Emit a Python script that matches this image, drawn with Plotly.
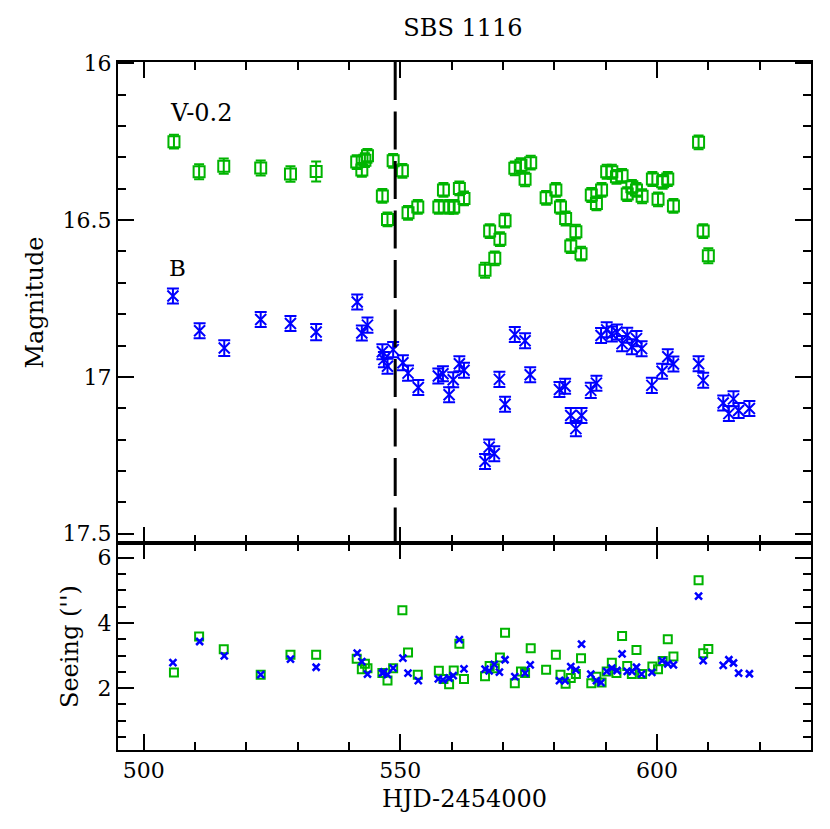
import plotly.graph_objects as go

# ---------------- data ----------------
V_hjd = [505.9, 510.8, 515.6, 522.8, 528.6, 533.6, 541.5, 542.5, 543.1, 543.6,
         546.5, 547.5, 548.6, 550.4, 551.5, 553.4, 557.5, 558.4, 559.5, 560.4,
         561.5, 562.4, 566.5, 567.4, 568.4, 569.4, 570.4, 572.3, 573.5, 574.3,
         575.4, 578.4, 580.3, 581.2, 582.2, 583.2, 584.2, 585.2, 587.2, 588.2,
         589.2, 590.2, 591.2, 592.1, 593.2, 594.2, 595.1, 596.0, 597.1, 599.1,
         600.2, 601.1, 602.1, 603.2, 608.1, 609.0, 610.0]
V_mag = [16.250, 16.346, 16.328, 16.334, 16.353, 16.345, 16.315, 16.340, 16.309, 16.295,
         16.423, 16.498, 16.311, 16.343, 16.477, 16.458, 16.458, 16.404, 16.458, 16.458,
         16.399, 16.431, 16.660, 16.535, 16.622, 16.561, 16.502, 16.335, 16.325, 16.370,
         16.317, 16.429, 16.404, 16.458, 16.495, 16.583, 16.537, 16.607, 16.420, 16.447,
         16.404, 16.346, 16.346, 16.362, 16.359, 16.417, 16.394, 16.404, 16.424, 16.369,
         16.434, 16.378, 16.369, 16.455, 16.252, 16.535, 16.614]
V_err = [0.022, 0.024, 0.024, 0.024, 0.025, 0.032, 0.022, 0.022, 0.022, 0.022,
         0.022, 0.022, 0.022, 0.022, 0.022, 0.022, 0.022, 0.022, 0.022, 0.022,
         0.022, 0.022, 0.024, 0.022, 0.022, 0.022, 0.022, 0.022, 0.022, 0.022,
         0.022, 0.022, 0.022, 0.022, 0.022, 0.022, 0.022, 0.022, 0.022, 0.022,
         0.022, 0.022, 0.022, 0.022, 0.022, 0.022, 0.022, 0.022, 0.022, 0.022,
         0.022, 0.022, 0.022, 0.022, 0.022, 0.022, 0.024]
V_seeing = [2.48, 3.58, 3.19, 2.41, 3.02, 3.02, 2.90, 2.58, 2.75, 2.61,
            2.46, 2.23, 2.61, 4.39, 3.09, 2.41, 2.53, 2.28, 2.12, 2.54,
            3.36, 2.28, 2.36, 2.68, 2.61, 2.94, 3.70, 2.15, 2.51, 2.46,
            3.22, 2.56, 3.02, 2.41, 2.13, 2.31, 2.43, 2.92, 2.15, 2.35,
            2.17, 2.51, 2.78, 2.46, 3.60, 2.68, 2.43, 3.17, 2.43, 2.66,
            2.58, 2.83, 3.50, 2.97, 5.31, 3.07, 3.20]

B_hjd = [505.7, 510.9, 515.7, 522.8, 528.6, 533.6, 541.6, 542.5, 543.6, 546.5,
         546.8, 547.5, 548.6, 550.5, 551.5, 553.5, 557.4, 558.3, 559.5, 560.3,
         561.5, 562.4, 566.5, 567.3, 568.3, 569.3, 570.4, 572.3, 574.3, 575.3,
         581.0, 582.1, 583.2, 584.2, 585.3, 587.1, 588.2, 589.1, 590.2, 591.2,
         592.2, 593.2, 594.2, 595.1, 596.0, 597.0, 599.0, 601.0, 602.1, 603.2,
         608.1, 609.0, 612.9, 614.0, 614.9, 615.9, 618.0]
B_mag = [16.742, 16.853, 16.908, 16.817, 16.830, 16.857, 16.761, 16.860, 16.835, 16.920,
         16.945, 16.966, 16.913, 16.955, 16.988, 17.034, 16.997, 16.990, 17.057, 17.009,
         16.958, 16.979, 17.270, 17.224, 17.245, 17.008, 17.087, 16.865, 16.885, 16.993,
         17.040, 17.030, 17.123, 17.165, 17.123, 17.043, 17.020, 16.868, 16.850, 16.863,
         16.857, 16.894, 16.867, 16.904, 16.878, 16.910, 17.027, 16.982, 16.936, 16.959,
         16.958, 17.011, 17.083, 17.117, 17.070, 17.107, 17.101]
B_err = [0.024, 0.024, 0.025, 0.024, 0.024, 0.026, 0.024, 0.024, 0.024, 0.024,
         0.024, 0.024, 0.024, 0.024, 0.024, 0.024, 0.024, 0.024, 0.024, 0.024,
         0.024, 0.024, 0.024, 0.024, 0.024, 0.024, 0.024, 0.024, 0.024, 0.024,
         0.024, 0.024, 0.024, 0.024, 0.024, 0.024, 0.024, 0.024, 0.024, 0.024,
         0.024, 0.024, 0.024, 0.024, 0.024, 0.024, 0.024, 0.024, 0.024, 0.024,
         0.024, 0.024, 0.024, 0.024, 0.024, 0.024, 0.024]
B_seeing = [2.78, 3.43, 2.99, 2.41, 2.89, 2.64, 3.07, 2.81, 2.43, 2.46,
            2.50, 2.41, 2.61, 2.92, 2.46, 2.23, 2.28, 2.25, 2.31, 2.38,
            3.49, 2.59, 2.58, 2.53, 2.73, 2.49, 2.87, 2.35, 2.46, 2.71,
            2.23, 2.23, 2.66, 2.56, 3.35, 2.43, 2.23, 2.17, 2.51, 2.61,
            2.54, 3.05, 2.51, 2.51, 2.64, 2.43, 2.48, 2.84, 2.74, 2.71,
            4.82, 2.84, 2.70, 2.87, 2.77, 2.46, 2.44]

event_hjd = 549.0
title_text = "SBS 1116"
x_title = "HJD-2454000"
mag_title = "Magnitude"
seeing_title = "Seeing ('')"

GREEN = "#00b400"
BLUE = "#0000ff"
FONT = "DejaVu Serif"

fig = go.Figure()

fig.add_trace(go.Scatter(
    x=V_hjd, y=V_mag, mode="markers", xaxis="x", yaxis="y",
    marker=dict(symbol="square-open", size=11, color=GREEN, line=dict(width=2, color=GREEN)),
    error_y=dict(type="data", array=V_err, width=5, thickness=2, color=GREEN),
    showlegend=False))
fig.add_trace(go.Scatter(
    x=B_hjd, y=B_mag, mode="markers", xaxis="x", yaxis="y",
    marker=dict(symbol="x-thin", size=11, color=BLUE, line=dict(width=2, color=BLUE)),
    error_y=dict(type="data", array=B_err, width=6, thickness=2, color=BLUE),
    showlegend=False))
fig.add_trace(go.Scatter(
    x=V_hjd, y=V_seeing, mode="markers", xaxis="x2", yaxis="y2",
    marker=dict(symbol="square-open", size=8, color=GREEN, line=dict(width=2, color=GREEN)),
    showlegend=False))
fig.add_trace(go.Scatter(
    x=B_hjd, y=B_seeing, mode="markers", xaxis="x2", yaxis="y2",
    marker=dict(symbol="x-thin", size=7, color=BLUE, line=dict(width=2.5, color=BLUE)),
    showlegend=False))

fig.add_shape(type="line", xref="x", yref="y domain", x0=event_hjd, x1=event_hjd,
              y0=1, y1=0, line=dict(color="black", width=3, dash="38px,11.5px"))

fig.add_annotation(text="V-0.2", x=504.8, y=16.16, xref="x", yref="y",
                   xanchor="left", yanchor="middle", showarrow=False,
                   font=dict(family=FONT, size=24, color="black"))
fig.add_annotation(text="B", x=504.6, y=16.653, xref="x", yref="y",
                   xanchor="left", yanchor="middle", showarrow=False,
                   font=dict(family=FONT, size=23, color="black"))

base = dict(showline=True, linecolor="black", linewidth=2, mirror="allticks",
            ticks="inside", ticklen=16, tickwidth=2, tickcolor="black",
            layer="above traces", showgrid=False, zeroline=False,
            tickfont=dict(family=FONT, size=22, color="black"))
minor_x = dict(dtick=10, ticks="inside", ticklen=8, tickcolor="black", tickwidth=2)

split = 0.3007
# page body has an 8px margin: figure is shrunk and shifted accordingly
fig.update_layout(
    width=822, height=821,
    margin=dict(l=110, r=19, t=54, b=79),
    paper_bgcolor="white", plot_bgcolor="white",
    title=dict(text=title_text, x=0.5535, xanchor="center", y=1 - 20 / 821, yanchor="middle",
               yref="container", font=dict(family=FONT, size=24, color="black")),
    xaxis=dict(**base, range=[495, 630], dtick=50, tick0=500, anchor="y",
               showticklabels=False, minor=minor_x),
    yaxis=dict(**base, domain=[split, 1], range=[17.53, 15.996], anchor="x",
               tickvals=[16, 16.5, 17, 17.5], ticktext=["16", "16.5", "17", "17.5"],
               minor=dict(dtick=0.1, tick0=16, ticks="inside", ticklen=8, tickcolor="black", tickwidth=2),
               title=dict(text=mag_title, font=dict(family=FONT, size=24, color="black"), standoff=12)),
    xaxis2=dict(**base, range=[495, 630], dtick=50, tick0=500, anchor="y2", minor=minor_x,
                title=dict(text=x_title, font=dict(family=FONT, size=24, color="black"), standoff=8)),
    yaxis2=dict(**base, domain=[0, split], range=[0.1, 6.45], anchor="x2",
                tickvals=[2, 4, 6],
                minor=dict(dtick=0.5, tick0=0, ticks="inside", ticklen=8, tickcolor="black", tickwidth=2),
                title=dict(text=seeing_title, font=dict(family=FONT, size=24, color="black"), standoff=12)),
)

fig.write_html("out.html")
